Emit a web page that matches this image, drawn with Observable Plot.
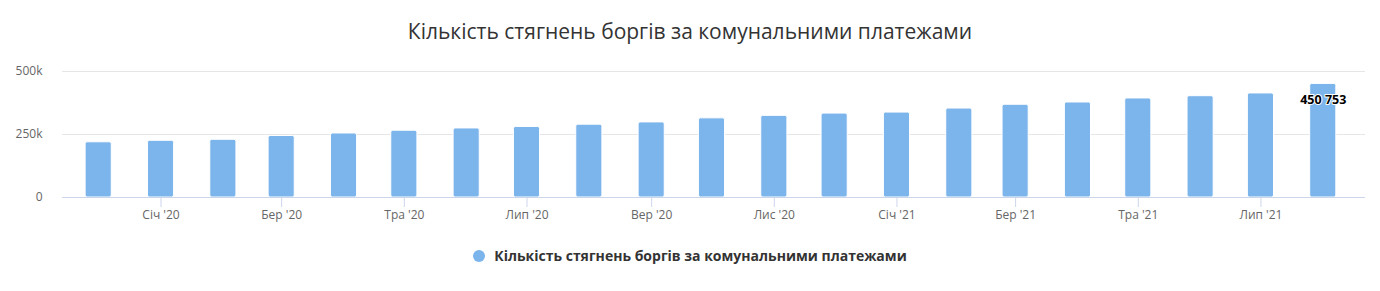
<!DOCTYPE html>
<html>
<head>
<meta charset="utf-8">
<script src="https://cdn.jsdelivr.net/npm/d3@7"></script>
<script src="https://cdn.jsdelivr.net/npm/@observablehq/plot@0.6"></script>
<style>
  html, body { margin: 0; padding: 0; background: #fff; }
  body { width: 1380px; height: 291px; position: relative; overflow: hidden; font-family: "Open Sans", "Noto Sans", sans-serif; }
  #title { position: absolute; top: 17px; left: 0; width: 1380px; text-align: center; font-size: 21px; color: #333; z-index: 2; }
  #chart { position: absolute; top: 0; left: 0; z-index: 1; }
  #legend { position: absolute; top: 246px; left: 0; width: 1380px; display: flex; justify-content: center; align-items: center; font-size: 14px; font-weight: bold; color: #333; z-index: 2; }
  #legend .dot { width: 12px; height: 12px; border-radius: 50%; background: #7cb5ec; margin-right: 9px; }
</style>
</head>
<body>
<div id="chart"></div>
<div id="title">Кількість стягнень боргів за комунальними платежами</div>
<div id="legend"><span class="dot"></span><span>Кількість стягнень боргів за комунальними платежами</span></div>
<script>
const months = ["2019-12","2020-01","2020-02","2020-03","2020-04","2020-05","2020-06","2020-07","2020-08","2020-09","2020-10","2020-11","2020-12","2021-01","2021-02","2021-03","2021-04","2021-05","2021-06","2021-07","2021-08"];
const values = [219000,225000,229000,244000,254000,265000,274000,280000,289000,298000,314000,324000,333000,337000,353000,368000,377000,393000,402000,413000,450753];
const monthNames = ["Січ","Лют","Бер","Кві","Тра","Чер","Лип","Сер","Вер","Жов","Лис","Гру"];
const yTicks = [0, 250000, 500000];
const yTickLabels = ["0", "250k", "500k"];
const seriesName = "Кількість стягнень боргів за комунальними платежами";

const data = months.map((m, i) => ({date: new Date(m + "-01T00:00:00Z"), value: values[i]}));
const halfWidth = 6.5 * 864e5;
const last = data[data.length - 1];
const xTicks = d3.utcMonth.every(2).range(new Date("2020-01-01T00:00:00Z"), new Date("2021-08-02T00:00:00Z"));

const chart = Plot.plot({
  width: 1380,
  height: 230,
  marginLeft: 62,
  marginRight: 15,
  marginTop: 71,
  marginBottom: 33,
  style: {fontFamily: "'Open Sans', 'Noto Sans', sans-serif", fontSize: "12px", color: "#666", background: "transparent"},
  x: {type: "utc", domain: [new Date("2019-11-13T00:00:00Z"), new Date("2021-08-22T00:00:00Z")], label: null},
  y: {domain: [0, 500000], label: null},
  marks: [
    Plot.gridY(yTicks, {stroke: "#e6e6e6", strokeOpacity: 1}),
    Plot.axisY(yTicks, {tickSize: 0, tickPadding: 20, tickFormat: d => yTickLabels[yTicks.indexOf(d)], fill: "#666", fontSize: 12, label: null}),
    Plot.rectY(data, {
      x1: d => new Date(+d.date - halfWidth),
      x2: d => new Date(+d.date + halfWidth),
      y: "value",
      fill: "#7cb5ec",
      stroke: "#fff",
      strokeWidth: 1,
      rx: 2
    }),
    Plot.ruleY([0], {stroke: "#ccd6eb"}),
    Plot.axisX(xTicks, {
      tickSize: 10,
      tickPadding: 3,
      stroke: "#ccd6eb",
      fill: "#666",
      fontSize: 12,
      tickFormat: d => monthNames[d.getUTCMonth()] + " '" + String(d.getUTCFullYear()).slice(2),
      label: null
    }),
    Plot.text([last], {
      x: "date",
      y: "value",
      text: d => d3.format(",")(d.value).replace(/,/g, " "),
      dy: 16,
      fill: "#000",
      stroke: "#fff",
      strokeWidth: 2,
      fontWeight: "bold",
      fontSize: 12.5
    })
  ]
});
document.getElementById("chart").appendChild(chart);
</script>
</body>
</html>
